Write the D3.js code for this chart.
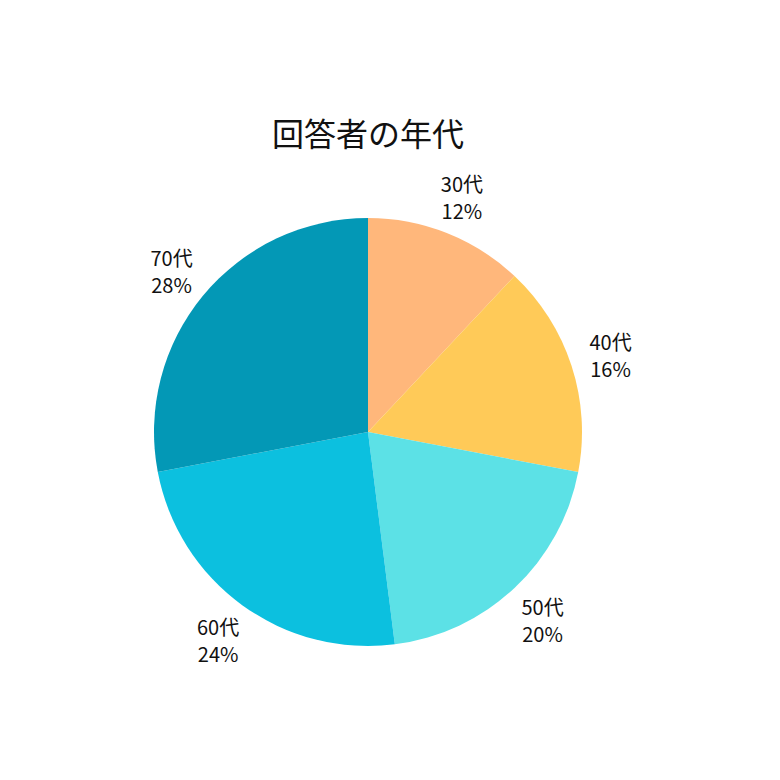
<!DOCTYPE html>
<html>
<head>
<meta charset="utf-8">
<script src="https://cdn.jsdelivr.net/npm/d3@7"></script>
<style>
  body { margin: 0; background: #fff; }
  text { font-family: "Noto Sans CJK JP", "Noto Sans", sans-serif; fill: #111; }
</style>
</head>
<body>
<div id="chart"></div>
<script>
const categories = ['30代', '40代', '50代', '60代', '70代'];
const values = [12, 16, 20, 24, 28];
const colors = ['#FFB77B', '#FFCA58', '#5CE1E6', '#0CC0DF', '#0398B6'];
const title = '回答者の年代';

const width = 780, height = 780;
const cx = 368, cy = 432, radius = 214, labelRadius = 255;

const svg = d3.select('#chart').append('svg')
    .attr('width', width)
    .attr('height', height);

svg.append('text')
    .attr('x', cx)
    .attr('y', 146)
    .attr('text-anchor', 'middle')
    .style('font-size', '32px')
    .text(title);

const pie = d3.pie().sort(null).value(d => d.value);
const data = categories.map((c, i) => ({ name: c, value: values[i], color: colors[i] }));
const arcs = pie(data);
const total = d3.sum(values);

const arc = d3.arc().innerRadius(0).outerRadius(radius);
const labelArc = d3.arc().innerRadius(labelRadius).outerRadius(labelRadius);

const g = svg.append('g').attr('transform', `translate(${cx},${cy})`);

g.selectAll('path.slice')
    .data(arcs)
    .enter()
    .append('path')
    .attr('class', 'slice')
    .attr('d', arc)
    .style('fill', d => d.data.color);

// ラベル（2行）
const labelG = g.selectAll('g.label')
    .data(arcs)
    .enter()
    .append('g')
    .attr('class', 'label')
    .attr('transform', d => `translate(${labelArc.centroid(d)})`);

labelG.append('text')
    .attr('text-anchor', 'middle')
    .attr('y', -3)
    .style('font-size', '20px')
    .text(d => d.data.name);

labelG.append('text')
    .attr('text-anchor', 'middle')
    .attr('y', 24)
    .style('font-size', '20px')
    .text(d => Math.round(d.data.value / total * 100) + '%');
</script>
</body>
</html>
